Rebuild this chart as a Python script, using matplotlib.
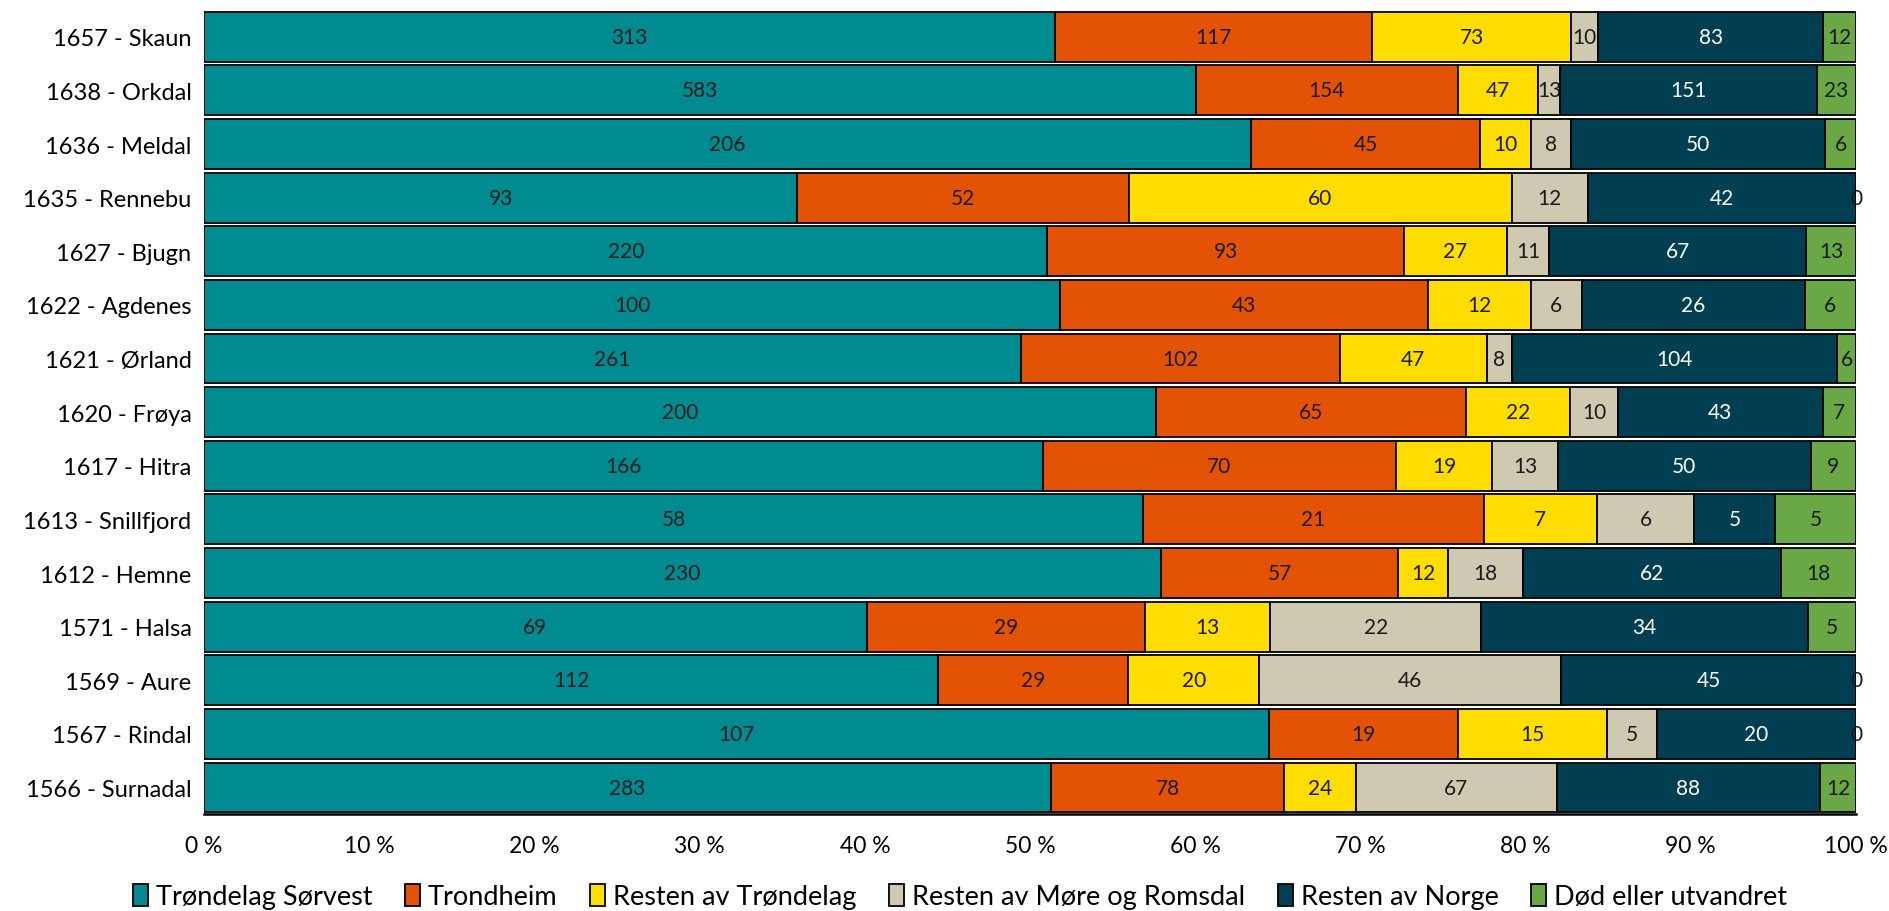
import matplotlib
matplotlib.use("Agg")
import matplotlib.pyplot as plt
import numpy as np
from matplotlib.patches import Patch

plt.rcParams['font.family'] = ['Lato', 'DejaVu Sans']

categories = ["1657 - Skaun", "1638 - Orkdal", "1636 - Meldal", "1635 - Rennebu",
              "1627 - Bjugn", "1622 - Agdenes", "1621 - Ørland", "1620 - Frøya",
              "1617 - Hitra", "1613 - Snillfjord", "1612 - Hemne", "1571 - Halsa",
              "1569 - Aure", "1567 - Rindal", "1566 - Surnadal"]
series_names = ["Trøndelag Sørvest", "Trondheim", "Resten av Trøndelag",
                "Resten av Møre og Romsdal", "Resten av Norge", "Død eller utvandret"]
trondelag_sorvest = [313, 583, 206, 93, 220, 100, 261, 200, 166, 58, 230, 69, 112, 107, 283]
trondheim = [117, 154, 45, 52, 93, 43, 102, 65, 70, 21, 57, 29, 29, 19, 78]
resten_trondelag = [73, 47, 10, 60, 27, 12, 47, 22, 19, 7, 12, 13, 20, 15, 24]
resten_more = [10, 13, 8, 12, 11, 6, 8, 10, 13, 6, 18, 22, 46, 5, 67]
resten_norge = [83, 151, 50, 42, 67, 26, 104, 43, 50, 5, 62, 34, 45, 20, 88]
dod_utvandret = [12, 23, 6, 0, 13, 6, 6, 7, 9, 5, 18, 5, 0, 0, 12]
x_ticks = [0, 10, 20, 30, 40, 50, 60, 70, 80, 90, 100]

colors = ["#008B91", "#E35205", "#FFDD00", "#CEC9B0", "#003F52", "#6AA845"]
text_colors = ["#1a1a1a", "#1a1a1a", "#1a1a1a", "#1a1a1a", "#ffffff", "#1a1a1a"]

data = np.array([trondelag_sorvest, trondheim, resten_trondelag,
                 resten_more, resten_norge, dod_utvandret], dtype=float)
totals = data.sum(axis=0)
pct = data / totals * 100

fig = plt.figure(figsize=(18.9, 9.12), dpi=100)
ax = fig.add_axes([0.108, 0.106, 0.874, 0.882])

y = np.arange(len(categories))
left = np.zeros(len(categories))
for i in range(len(series_names)):
    ax.barh(y, pct[i], left=left, height=0.93, color=colors[i],
            edgecolor="black", linewidth=1.3, label=series_names[i], zorder=2)
    centers = left + pct[i] / 2
    for yy, cx, v in zip(y, centers, data[i]):
        ax.text(cx, yy, str(int(v)), ha="center", va="center", fontsize=15,
                color=text_colors[i] if v > 0 else "#1a1a1a", zorder=5, clip_on=False)
    left += pct[i]

ax.set_ylim(len(categories) - 0.5, -0.5)
ax.set_xlim(0, 100)
ax.set_yticks(y)
ax.set_yticklabels(categories, fontsize=17)
ax.set_xticks(x_ticks)
ax.set_xticklabels([f"{t} %" for t in x_ticks], fontsize=16.5)
ax.tick_params(axis='both', length=0)
ax.tick_params(axis='x', pad=15)
ax.tick_params(axis='y', pad=9)
for s in ["top", "right", "left"]:
    ax.spines[s].set_visible(False)
ax.spines["bottom"].set_linewidth(1.8)
ax.spines["bottom"].set_zorder(3)

handles = [Patch(facecolor=colors[i], edgecolor="black", linewidth=1.3, label=series_names[i])
           for i in range(len(series_names))]
fig.legend(handles=handles, loc="center", bbox_to_anchor=(0.508, 0.016), ncol=6,
           frameon=False, fontsize=19.5, handlelength=0.55, handleheight=0.9,
           handletextpad=0.3, columnspacing=1.2)

fig.savefig("out.png", dpi=100, facecolor="white")
